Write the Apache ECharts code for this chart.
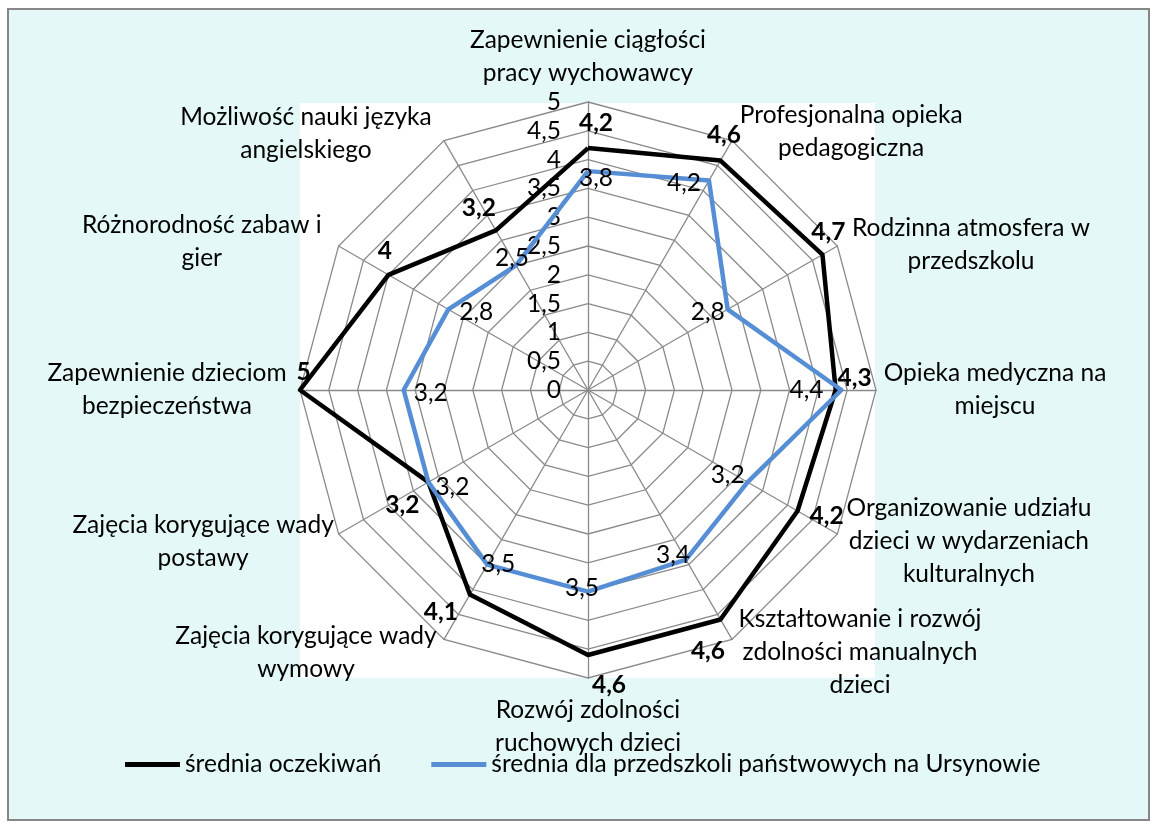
<!DOCTYPE html>
<html>
<head>
<meta charset="utf-8">
<script src="https://cdn.jsdelivr.net/npm/echarts@6/dist/echarts.min.js"></script>
<style>
html,body{margin:0;padding:0;background:#ffffff;}
#chart{width:1157px;height:829px;}
</style>
</head>
<body>
<div id="chart"></div>
<script>
// ---- data (clockwise from top) ----
const categories = [
  'Zapewnienie ciągłości\npracy wychowawcy',
  'Profesjonalna opieka\npedagogiczna',
  'Rodzinna atmosfera w\nprzedszkolu',
  'Opieka medyczna na\nmiejscu',
  'Organizowanie udziału\ndzieci w wydarzeniach\nkulturalnych',
  'Kształtowanie i rozwój\nzdolności manualnych\ndzieci',
  'Rozwój zdolności\nruchowych dzieci',
  'Zajęcia korygujące wady\nwymowy',
  'Zajęcia korygujące wady\npostawy',
  'Zapewnienie dzieciom\nbezpieczeństwa',
  'Różnorodność zabaw i\ngier',
  'Możliwość nauki języka\nangielskiego'
];
const seriesNames = ['średnia oczekiwań', 'średnia dla przedszkoli państwowych na Ursynowie'];
const expected = [4.2, 4.6, 4.7, 4.3, 4.2, 4.6, 4.6, 4.1, 3.2, 5, 4, 3.2];
const ursynow  = [3.8, 4.2, 2.8, 4.4, 3.2, 3.4, 3.5, 3.5, 3.2, 3.2, 2.8, 2.5];
const axisMax = 5;
const axisSplits = 10;

// ---- styling (label placement, not data) ----
const nameGaps = [42, 10.4, 3, 15, 15, 15, 49, 15, 15, 15, 9, 8.1];
const namePad = [
  [0,0,0,0],[0,0,0,228],[0,0,0,262],[0,0,0,208],[0,0,0,237],[0,0,0,241],
  [0,0,0,0],[0,261,0,0],[0,245,0,0],[0,236,0,0],[0,258,0,0],[0,268,0,0]
];
const blackLabelOffset = [[8,-25],[3.5,-25.5],[6,-23],[19,-12],[29,5],[-12.5,32],[21,30],[-29,17.5],[-26,23],[3.5,-18],[-3.5,-24],[-17,-22]];
const blueLabelOffset  = [[8,7],[-25,3],[-20,2.5],[-35,0],[-20,-7],[-13,-5],[-6,-3.5],[11,0],[24,5],[27,3],[28,3],[-4,-7]];

const FONT = 'Lato';
const FS = 24.5;
const BLUE = '#558ED5';
const GRID = '#8a8a8a';

// ECharts lays radar indicators counter-clockwise; reorder so our list reads clockwise
const n = categories.length;
const ord = [0];
for (let j = n - 1; j >= 1; j--) ord.push(j);
const libIndexOf = i => (i === 0 ? 0 : n - i);
const reorder = arr => ord.map(k => arr[k]);
const fmt = v => String(v).replace('.', ',');

const indicators = ord.map((k, j) => {
  const ind = {
    name: categories[k],
    min: 0,
    max: axisMax,
    nameGap: nameGaps[k],
    nameTextStyle: {
      align: 'center',
      verticalAlign: 'middle',
      padding: namePad[k]
    }
  };
  if (j !== 0) ind.axisLabel = { show: false };
  return ind;
});

function labelItems(values, offsets, color, bold, tag) {
  const vals = reorder(values);
  return values.map((v, i) => {
    const dim = libIndexOf(i);
    return {
      name: tag + i,
      value: vals,
      symbol: 'circle',
      symbolSize: 1,
      itemStyle: { color: 'rgba(0,0,0,0)' },
      lineStyle: { width: 0, color: 'rgba(0,0,0,0)' },
      label: {
        show: true,
        position: 'inside',
        offset: offsets[i],
        color: color,
        fontFamily: FONT,
        fontSize: FS,
        fontWeight: bold ? 'bold' : 'normal',
        formatter: p => (p.dimensionIndex === dim ? fmt(p.value) : '')
      }
    };
  });
}

const chart = echarts.init(document.getElementById('chart'), null, { renderer: 'canvas' });
chart.setOption({
  animation: false,
  backgroundColor: '#ffffff',
  textStyle: { fontFamily: FONT },
  graphic: [
    { type: 'rect', z: -100, silent: true,
      shape: { x: 8, y: 9, width: 1141, height: 811 },
      style: { fill: '#e4f8f8', stroke: '#868686', lineWidth: 2 } },
    { type: 'rect', z: -90, silent: true,
      shape: { x: 300, y: 103, width: 575, height: 575 },
      style: { fill: '#ffffff' } }
  ],
  legend: {
    data: seriesNames,
    left: 120,
    top: 747,
    icon: 'rect',
    itemWidth: 55,
    itemHeight: 5,
    itemGap: 50,
    textStyle: { fontFamily: FONT, fontSize: FS, color: '#000' },
    selectedMode: false
  },
  radar: {
    center: [588, 390],
    radius: 288,
    startAngle: 90,
    shape: 'polygon',
    splitNumber: axisSplits,
    nameGap: 15,
    indicator: indicators,
    axisName: { color: '#000', fontFamily: FONT, fontSize: FS, lineHeight: 33 },
    axisLine: { show: true, lineStyle: { color: GRID, width: 1.3 } },
    splitLine: { show: true, lineStyle: { color: GRID, width: 1.3 } },
    splitArea: { show: false },
    axisTick: { show: false },
    axisLabel: {
      show: true,
      margin: 27,
      color: '#000',
      fontFamily: FONT,
      fontSize: FS,
      formatter: v => fmt(v)
    }
  },
  series: [
    {
      type: 'radar',
      name: 'main',
      symbol: 'none',
      silent: true,
      z: 3,
      emphasis: { disabled: true },
      data: [
        { name: seriesNames[0], value: reorder(expected),
          itemStyle: { color: '#000000' }, lineStyle: { color: '#000000', width: 4.5 } },
        { name: seriesNames[1], value: reorder(ursynow),
          itemStyle: { color: BLUE }, lineStyle: { color: BLUE, width: 4.5 } }
      ]
    },
    {
      type: 'radar',
      name: 'labels',
      silent: true,
      z: 4,
      emphasis: { disabled: true },
      data: labelItems(expected, blackLabelOffset, '#000', true, 'b')
        .concat(labelItems(ursynow, blueLabelOffset, '#000', false, 'u'))
    }
  ]
});
</script>
</body>
</html>
